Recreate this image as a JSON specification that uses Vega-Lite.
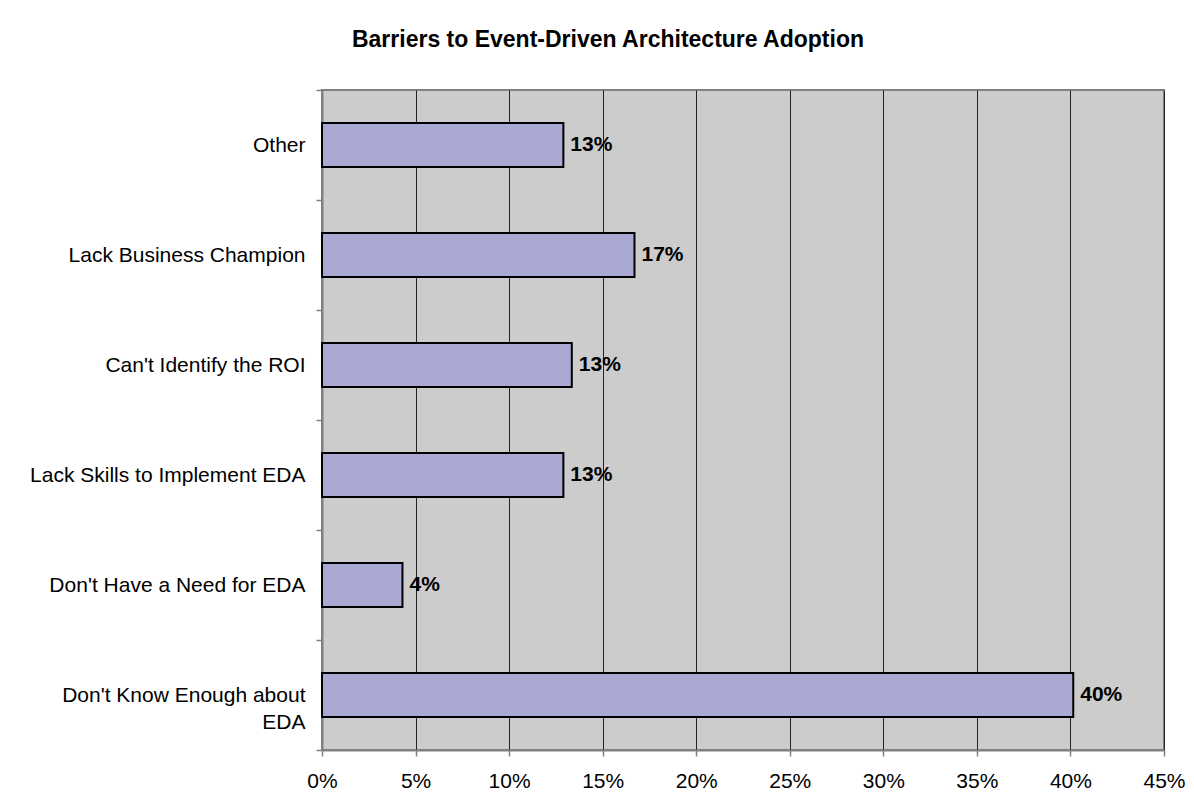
{
  "$schema": "https://vega.github.io/schema/vega-lite/v6.json",
  "autosize": {"type": "none"},
  "padding": {"left": 322, "top": 90, "right": 30, "bottom": 54},
  "width": 842,
  "height": 660,
  "background": "#ffffff",
  "title": {
    "text": "Barriers to Event-Driven Architecture Adoption",
    "font": "Liberation Sans",
    "fontSize": 23,
    "fontWeight": "bold",
    "color": "#000000",
    "anchor": "middle",
    "dx": -135,
    "baseline": "alphabetic",
    "offset": 9
  },
  "data": {
    "values": [
      {"barrier": "Other", "pct": 0.129},
      {"barrier": "Lack Business Champion", "pct": 0.167},
      {"barrier": "Can't Identify the ROI", "pct": 0.1335},
      {"barrier": "Lack Skills to Implement EDA", "pct": 0.129},
      {"barrier": "Don't Have a Need for EDA", "pct": 0.043},
      {"barrier": "Don't Know Enough about EDA", "pct": 0.4015}
    ]
  },
  "encoding": {
    "y": {
      "field": "barrier",
      "type": "nominal",
      "sort": null,
      "title": null,
      "scale": {"paddingInner": 0, "paddingOuter": 0},
      "axis": {
        "tickBand": "extent",
        "grid": false,
        "domainColor": "#808080",
        "domainWidth": 2,
        "tickColor": "#808080",
        "tickWidth": 1.5,
        "tickSize": 6,
        "labelPadding": 11,
        "labelFont": "Liberation Sans",
        "labelFontSize": 21,
        "labelColor": "#000000",
        "labelLimit": 400,
        "labelLineHeight": 27,
        "labelExpr": "indexof(datum.label, 'Enough') >= 0 ? [replace(datum.label, ' EDA', ''), 'EDA'] : datum.label"
      }
    },
    "x": {
      "field": "pct",
      "type": "quantitative",
      "title": null,
      "scale": {"domain": [0, 0.45], "nice": false},
      "axis": {
        "values": [0, 0.05, 0.1, 0.15, 0.2, 0.25, 0.3, 0.35, 0.4, 0.45],
        "format": ".0%",
        "grid": true,
        "gridColor": "#222222",
        "gridWidth": 1,
        "gridOpacity": 1,
        "domainColor": "#808080",
        "domainWidth": 2,
        "tickColor": "#808080",
        "tickWidth": 1.5,
        "tickSize": 6,
        "labelPadding": 14,
        "labelFont": "Liberation Sans",
        "labelFontSize": 21,
        "labelColor": "#000000",
        "labelFlush": false
      }
    }
  },
  "layer": [
    {
      "mark": {
        "type": "bar",
        "height": {"band": 0.4},
        "fill": "#aaa9d4",
        "stroke": "#000000",
        "strokeWidth": 2
      }
    },
    {
      "mark": {
        "type": "text",
        "align": "left",
        "baseline": "middle",
        "dx": 7,
        "font": "Liberation Sans",
        "fontSize": 21,
        "fontWeight": "bold",
        "color": "#000000"
      },
      "encoding": {
        "text": {"field": "pct", "type": "quantitative", "format": ".0%"}
      }
    }
  ],
  "config": {
    "view": {"fill": "#cccccc", "stroke": "#808080", "strokeWidth": 2}
  }
}
